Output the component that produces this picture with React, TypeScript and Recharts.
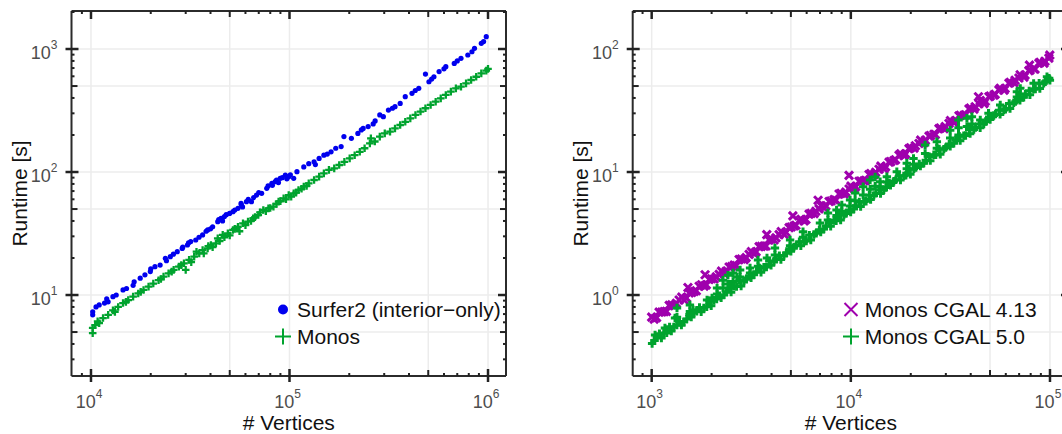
import { ScatterChart, Scatter, XAxis, YAxis, CartesianGrid, ReferenceLine, Legend } from 'recharts';

const FONT = '"Liberation Sans", Arial, Helvetica, sans-serif';

// ---- left panel: Surfer2 vs Monos ----
const surferVertices = [
  10200, 10200, 10600, 11000, 11700, 12000, 12200, 12900, 13400, 14500,
  15100, 16300, 16500, 17700, 18700, 19900, 20000, 21000, 22300, 23700,
  24000, 25100, 26000, 27200, 28800, 29000, 30600, 31000, 31800, 33700,
  35000, 36500, 38000, 38700, 40000, 41000, 43500, 44000, 45200, 46000,
  47000, 48000, 49900, 51900, 53000, 55000, 57000, 57200, 58000, 60700,
  62000, 64300, 66000, 68200, 70000, 72400, 76800, 78000, 81500, 82000,
  84700, 86000, 88000, 89800, 92000, 95300, 97000, 99100, 101000, 105000,
  109000, 118000, 125000, 133000, 135000, 141000, 149000, 155000, 162000, 171000,
  182000, 188000, 205000, 221000, 230000, 235000, 249000, 264000, 270000, 285000,
  297000, 315000, 330000, 340000, 361000, 383000, 414000, 430000, 448000, 484000,
  504000, 520000, 534000, 567000, 600000, 613000, 676000, 700000, 731000, 791000,
  830000, 855000, 925000, 950000, 980000,
];
const surferRuntime = [
  6.9, 7.3, 8.0, 8.3, 8.6, 9.3, 8.8, 9.7, 10.0, 11.0,
  11.3, 12.0, 12.8, 13.7, 14.6, 15.5, 16.3, 17.0, 17.5, 19.9,
  19.0, 20.5, 21.5, 22.5, 23.9, 24.5, 25.5, 26.5, 27.2, 28.0,
  29.5, 30.8, 33.0, 33.8, 34.5, 35.9, 39.5, 41.0, 42.0, 40.0,
  43.4, 45.0, 46.1, 47.6, 49.0, 50.7, 55.5, 54.0, 52.0, 57.4,
  60.0, 57.4, 62.0, 65.0, 68.0, 67.1, 73.7, 77.0, 80.9, 78.0,
  83.4, 86.0, 82.0, 88.9, 90.0, 94.6, 88.0, 91.7, 95.0, 88.9,
  100.7, 110, 117, 121, 115, 129, 137, 140, 146, 156,
  161, 194, 188, 206, 220, 226, 234, 246, 260, 291,
  282, 319, 330, 340, 361, 410, 436, 460, 479, 626,
  542, 570, 595, 655, 690, 718, 764, 800, 840, 894,
  950, 1012, 1112, 1150, 1259,
];
const monosVertices = [
  10200, 10200, 10500, 10800, 11000, 11500, 12200, 12900, 13200, 13700,
  14500, 15000, 15400, 16300, 17300, 17800, 18400, 19500, 20600, 21900,
  22500, 23200, 24600, 25500, 26100, 27700, 28500, 29400, 30000, 31200,
  32000, 33100, 34000, 35100, 36500, 37000, 38700, 39000, 40200, 41000,
  42600, 43500, 44500, 46100, 47000, 48900, 50000, 51900, 53000, 55000,
  56000, 58300, 60000, 61800, 64000, 65600, 67000, 69600, 71000, 73800,
  76000, 78300, 80000, 83000, 86000, 88100, 90000, 93400, 96000, 99100,
  102000, 105000, 108000, 111000, 115000, 118000, 122000, 125000, 133000, 141000,
  149000, 158000, 168000, 178000, 189000, 201000, 213000, 226000, 239000, 254000,
  257000, 269000, 285000, 302000, 321000, 340000, 361000, 383000, 406000, 431000,
  457000, 484000, 514000, 545000, 578000, 613000, 650000, 689000, 731000, 775000,
  822000, 872000, 925000, 980000, 1000000,
];
const monosRuntime = [
  4.9, 5.4, 5.7, 6.1, 5.9, 6.5, 6.9, 7.5, 7.3, 8.0,
  8.6, 8.8, 9.1, 9.7, 10.3, 10.6, 11.0, 11.7, 12.4, 13.2,
  13.5, 14.1, 15.0, 15.5, 16.0, 17.0, 17.5, 18.1, 16.0, 19.3,
  18.5, 20.5, 22.5, 21.8, 23.2, 21.8, 23.9, 25.0, 25.5, 24.5,
  26.3, 28.9, 27.5, 30.8, 29.5, 31.7, 30.5, 33.8, 34.5, 35.9,
  33.0, 38.3, 37.0, 39.5, 40.0, 42.0, 43.0, 44.7, 47.0, 49.1,
  48.0, 50.7, 51.0, 52.3, 55.0, 57.4, 58.0, 61.1, 60.0, 65.0,
  63.0, 67.1, 68.0, 71.4, 73.0, 76.0, 77.0, 80.9, 86.1, 91.7,
  97.5, 104, 107, 114, 121, 129, 137, 146, 156, 171,
  188, 177, 194, 206, 213, 226, 241, 256, 273, 291,
  310, 330, 351, 373, 397, 423, 450, 479, 494, 526,
  560, 595, 634, 667, 690,
];

// ---- right panel: Monos with CGAL 4.13 vs 5.0 ----
const cgal413Vertices = [
  1000, 1058, 1125, 1186, 1262, 1330, 1416, 1493, 1588, 1675,
  1782, 1880, 1999, 2110, 2243, 2367, 2517, 2655, 2823, 2980,
  3168, 3344, 3555, 3750, 3988, 4210, 4475, 4725, 5020, 5300,
  5633, 5950, 6320, 6675, 7090, 7490, 7955, 8405, 8925, 9430,
  10010, 10580, 11230, 11880, 12600, 13330, 14150, 14950, 15870, 16760,
  17800, 18800, 19970, 21100, 22420, 23680, 25140, 26570, 28200, 29800,
  31640, 33450, 35500, 37530, 39830, 42140, 44700, 47300, 50180, 53070,
  56300, 59530, 63150, 66800, 70850, 74950, 79500, 84100, 89200, 94350,
  99800, 1521, 1854, 3784, 5117, 6850, 9795, 43750, 78900,
];
const cgal413Runtime = [
  0.661, 0.655, 0.728, 0.736, 0.834, 0.857, 0.962, 0.948, 1.047, 1.084,
  1.211, 1.208, 1.355, 1.406, 1.563, 1.56, 1.702, 1.734, 1.963, 2.014,
  2.254, 2.249, 2.483, 2.506, 2.844, 2.924, 3.273, 3.236, 3.573, 3.69,
  4.13, 4.111, 4.613, 4.797, 5.321, 5.3, 5.808, 5.902, 6.699, 6.855,
  7.674, 7.6, 8.453, 8.551, 9.705, 9.954, 11.17, 11.02, 12.16, 12.59,
  14.06, 14.03, 15.74, 16.33, 18.16, 18.11, 19.77, 20.14, 22.8, 23.39,
  26.18, 26.12, 28.84, 29.11, 33.04, 33.96, 38.02, 37.58, 41.5, 42.85,
  47.97, 47.75, 53.58, 55.72, 61.8, 61.5, 67.45, 68.55, 77.8, 79.6,
  89.1, 1.15, 1.46, 3.1, 4.4, 5.9, 9.4, 40.9, 74,
];
const cgal413VerticesB = [
  1029, 1090, 1155, 1225, 1297, 1374, 1456, 1543, 1634, 1732,
  1834, 1944, 2059, 2182, 2312, 2449, 2594, 2749, 2913, 3086,
  3270, 3464, 3670, 3889, 4120, 4365, 4624, 4900, 5190, 5500,
  5826, 6173, 6540, 6930, 7340, 7780, 8240, 8730, 9250, 9800,
  10380, 11000, 11650, 12350, 13080, 13860, 14680, 15560, 16480, 17460,
  18500, 19600, 20770, 22000, 23310, 24700, 26170, 27720, 29370, 31120,
  32970, 34930, 37000, 39200, 41530, 44000, 46620, 49390, 52330, 55440,
  58740, 62230, 65930, 69850, 74000, 78400, 83060, 88000, 93230, 98770,
];
const cgal413RuntimeB = [
  0.637, 0.726, 0.733, 0.824, 0.82, 0.91, 0.912, 1.038, 1.069, 1.178,
  1.18, 1.337, 1.349, 1.472, 1.493, 1.69, 1.75, 1.945, 1.941, 2.138,
  2.168, 2.472, 2.495, 2.805, 2.799, 3.097, 3.105, 3.532, 3.639, 4.018,
  4.0, 4.55, 4.592, 5.012, 5.093, 5.754, 5.957, 6.622, 6.607, 7.278,
  7.379, 8.414, 8.492, 9.55, 9.528, 10.54, 10.57, 12.02, 12.39, 13.68,
  13.6, 15.49, 15.63, 17.06, 17.34, 19.59, 20.28, 22.54, 22.49, 24.77,
  25.12, 28.64, 28.91, 32.51, 32.43, 35.89, 35.97, 40.93, 42.17, 46.56,
  46.2, 52.72, 53.21, 58.08, 59.02, 66.68, 69.02, 76.74, 76.56, 84.33,
];
const cgal50Vertices = [
  1005, 1062, 1119, 1190, 1255, 1338, 1410, 1500, 1580, 1684,
  1772, 1890, 1990, 2120, 2232, 2378, 2505, 2668, 2812, 2992,
  3155, 3360, 3540, 3770, 3975, 4230, 4455, 4745, 5000, 5325,
  5610, 5975, 6295, 6705, 7060, 7525, 7920, 8440, 8890, 9470,
  9980, 10620, 11200, 11930, 12570, 13380, 14100, 15010, 15820, 16840,
  17750, 18900, 19900, 21200, 22350, 23800, 25060, 26700, 28120, 29950,
  31550, 33600, 35400, 37700, 39700, 42300, 44600, 47500, 50050, 53300,
  56150, 59800, 63000, 67100, 70650, 75250, 79300, 84450, 88950, 94750,
  99900,
  1040, 1166, 1310, 1340, 1340, 1556, 1556, 1614, 1897, 2010,
  2130, 2130, 2282, 2282, 2415, 2415, 2563, 2563, 2684, 2780,
  2780, 3119, 3119, 3420, 3420, 3793, 4159, 4159, 4955, 4955,
  5754, 5754, 7000, 7677, 7677, 8479, 8479, 9010, 9010, 9910,
  9910, 10510, 10510, 11530, 11530, 12500, 12500, 13250, 13250, 14030,
  14030, 15170, 15170, 17020, 19100, 19100, 20640, 20640, 23610, 23610,
  27040, 27040, 31550, 31550, 34740, 34740, 34740, 38280, 38280, 40550,
  40550, 44670, 49130, 56260, 68230, 68230, 70950, 70950, 82790, 96620,
];
const cgal50Runtime = [
  0.403, 0.452, 0.447, 0.492, 0.509, 0.57, 0.569, 0.637, 0.662, 0.736,
  0.731, 0.801, 0.817, 0.927, 0.948, 1.062, 1.055, 1.172, 1.183, 1.343,
  1.38, 1.549, 1.528, 1.687, 1.746, 1.954, 1.945, 2.183, 2.27, 2.523,
  2.517, 2.748, 2.799, 3.177, 3.251, 3.64, 3.619, 4.018, 4.064, 4.602,
  4.732, 5.309, 5.248, 5.781, 5.984, 6.699, 6.683, 7.481, 7.78, 8.649,
  8.595, 9.419, 9.598, 10.89, 11.16, 12.47, 12.37, 13.77, 13.93, 15.78,
  16.22, 18.19, 17.99, 19.82, 20.51, 22.96, 22.91, 25.71, 26.67, 29.65,
  29.41, 32.36, 32.88, 37.32, 38.29, 42.85, 42.5, 47.21, 47.75, 54.2,
  55.59,
  0.473, 0.54, 0.65, 0.784, 0.66, 0.83, 0.736, 0.755, 0.91, 0.946,
  1.14, 1.02, 1.32, 1.14, 1.45, 1.23, 1.51, 1.29, 1.4, 1.6,
  1.4, 1.66, 1.51, 1.93, 1.71, 2.0, 2.41, 2.12, 2.8, 2.51,
  3.27, 2.95, 3.85, 4.64, 4.07, 4.91, 4.44, 5.39, 4.79, 5.92,
  5.3, 6.75, 5.83, 7.59, 6.5, 8.61, 7.24, 9.1, 7.67, 8.34,
  7.59, 9.16, 8.28, 10.05, 11.8, 10.64, 12.9, 11.59, 16.6, 14.13,
  17.6, 15.63, 21.9, 18.92, 26.5, 22.9, 19.95, 27.4, 23.44, 28.2,
  24.55, 26.5, 30.0, 35.1, 45.0, 40.7, 47.9, 43.15, 52.6, 59.6,
];
const cgal50VerticesB = [
  1033, 1094, 1150, 1230, 1292, 1380, 1450, 1548, 1628, 1738,
  1828, 1950, 2052, 2190, 2305, 2456, 2587, 2757, 2905, 3095,
  3262, 3474, 3660, 3900, 4110, 4378, 4612, 4915, 5176, 5516,
  5810, 6190, 6522, 6950, 7320, 7800, 8220, 8755, 9225, 9830,
  10350, 11030, 11620, 12385, 13045, 13900, 14640, 15600, 16440, 17510,
  18450, 19650, 20720, 22060, 23250, 24770, 26100, 27800, 29300, 31200,
  32890, 35030, 36900, 39300, 41430, 44120, 46500, 49530, 52200, 55600,
  58600, 62400, 65770, 70050, 73820, 78620, 82860, 88250, 92990, 99050,
];
const cgal50RuntimeB = [
  0.426, 0.485, 0.49, 0.551, 0.55, 0.61, 0.605, 0.695, 0.716, 0.791,
  0.785, 0.895, 0.906, 0.989, 1.002, 1.135, 1.175, 1.309, 1.306, 1.436,
  1.459, 1.663, 1.683, 1.888, 1.884, 2.089, 2.094, 2.382, 2.455, 2.71,
  2.716, 3.069, 3.105, 3.388, 3.443, 3.89, 4.027, 4.487, 4.477, 4.92,
  5.0, 5.702, 5.768, 6.471, 6.457, 7.161, 7.178, 8.166, 8.414, 9.29,
  9.311, 10.52, 10.64, 11.61, 11.8, 13.34, 13.8, 15.38, 15.35, 16.87,
  17.14, 19.54, 19.77, 22.18, 22.13, 24.55, 24.6, 27.99, 28.84, 31.84,
  31.92, 36.06, 36.48, 39.81, 40.46, 45.71, 47.32, 52.72, 52.6, 57.81,
];

// ticks (log axes, majors at decades) and grid values
const leftXTicks = [9000, 1e4, 2e4, 3e4, 4e4, 5e4, 6e4, 7e4, 8e4, 9e4, 1e5, 2e5, 3e5, 4e5, 5e5, 6e5, 7e5, 8e5, 9e5, 1e6];
const leftYTicks = [3, 4, 5, 6, 7, 8, 9, 10, 20, 30, 40, 50, 60, 70, 80, 90, 100, 200, 300, 400, 500, 600, 700, 800, 900, 1000, 2000];
const rightXTicks = [900, 1e3, 2e3, 3e3, 4e3, 5e3, 6e3, 7e3, 8e3, 9e3, 1e4, 2e4, 3e4, 4e4, 5e4, 6e4, 7e4, 8e4, 9e4, 1e5];
const rightYTicks = [0.3, 0.4, 0.5, 0.6, 0.7, 0.8, 0.9, 1, 2, 3, 4, 5, 6, 7, 8, 9, 10, 20, 30, 40, 50, 60, 70, 80, 90, 100, 200];
const leftXGrid = [1e4, 5e4, 1e5, 5e5, 1e6];
const leftYGrid = [5, 10, 50, 100, 500, 1000];
const rightXGrid = [1e3, 5e3, 1e4, 5e4, 1e5];
const rightYGrid = [0.5, 1, 5, 10, 50, 100];

type Marker = 'dot' | 'plus' | 'cross';
interface Series { name: string; xs: number[]; ys: number[]; color: string; marker: Marker; size: number; weight: number }

const drawMarker = (kind: Marker, color: string, cx: number, cy: number, s: number, w = 2) => {
  if (kind === 'dot') return <circle cx={cx} cy={cy} r={s} fill={color} />;
  if (kind === 'plus')
    return <path d={`M${cx - s},${cy}H${cx + s}M${cx},${cy - s}V${cy + s}`} stroke={color} strokeWidth={w} fill="none" />;
  return (
    <path d={`M${cx - s},${cy - s}L${cx + s},${cy + s}M${cx - s},${cy + s}L${cx + s},${cy - s}`} stroke={color} strokeWidth={w} fill="none" />
  );
};
const legendSize: Record<Marker, number> = { dot: 5, plus: 8, cross: 6.5 };

const tickInfo = (v: number) => {
  const e = Math.floor(Math.log10(v) + 1e-9);
  const m = v / Math.pow(10, e);
  return { e, major: Math.abs(m - 1) < 1e-6, half: Math.abs(m - 5) < 1e-6 };
};

const PowerLabel = ({ x, y, exp, anchor }: { x: number; y: number; exp: number; anchor: 'middle' | 'end' }) => (
  <text x={x} y={y} textAnchor={anchor} fill="#4d4d4d" fontFamily={FONT} fontSize={18}>
    10
    <tspan dy={-10} fontSize={12}>
      {exp}
    </tspan>
  </text>
);

const TICK = '#222';

// bottom axis ticks, mirrored onto the top edge of the frame
const makeXTick = (plotH: number) => (props: any) => {
  const { x, y, payload } = props;
  const { e, major, half } = tickInfo(payload.value);
  const inner = major ? 7 : half ? 6 : 3;
  const top = y - plotH;
  return (
    <g>
      <line x1={x} x2={x} y1={y + (major ? 6 : 0)} y2={y - inner} stroke={TICK} strokeWidth={major ? 2.5 : 2} />
      <line x1={x} x2={x} y1={top} y2={top + (major ? 8 : inner)} stroke={TICK} strokeWidth={major ? 2.5 : 2} />
      {major && <PowerLabel x={x - 2} y={y + 32} exp={e} anchor="middle" />}
    </g>
  );
};

// left axis ticks, mirrored onto the right edge of the frame
const makeYTick = (plotW: number) => (props: any) => {
  const { x, y, payload } = props;
  const { e, major, half } = tickInfo(payload.value);
  const inner = major ? 7 : half ? 6 : 3;
  const right = x + plotW;
  return (
    <g>
      <line x1={x - (major ? 6 : 0)} x2={x + inner} y1={y} y2={y} stroke={TICK} strokeWidth={major ? 2.5 : 2} />
      <line x1={right} x2={right - (major ? 8 : inner)} y1={y} y2={y} stroke={TICK} strokeWidth={major ? 2.5 : 2} />
      {major && <PowerLabel x={x - 14} y={y + 9.5} exp={e} anchor="end" />}
    </g>
  );
};

interface PanelProps {
  width: number;
  marginLeft: number;
  marginRight: number;
  xDomain: [number, number];
  yDomain: [number, number];
  xTicks: number[];
  yTicks: number[];
  xGrid: number[];
  yGrid: number[];
  series: Series[];
  legendLeft: number;
}

const HEIGHT = 434;
const TOP = 11;
const X_AXIS_H = 58;
const Y_AXIS_W = 71;

function Panel({ width, marginLeft, marginRight, xDomain, yDomain, xTicks, yTicks, xGrid, yGrid, series, legendLeft }: PanelProps) {
  const plotW = width - marginLeft - marginRight - Y_AXIS_W;
  const plotH = HEIGHT - TOP - X_AXIS_H;
  const frame = { stroke: '#2b2b2b', strokeWidth: 2 };

  return (
    <ScatterChart width={width} height={HEIGHT} margin={{ top: TOP, right: marginRight, bottom: 0, left: marginLeft }}>
      <CartesianGrid stroke="#ececec" strokeWidth={1.5} horizontalValues={yGrid} verticalValues={xGrid} />
      <XAxis
        dataKey="x"
        type="number"
        scale="log"
        domain={xDomain}
        allowDataOverflow
        ticks={xTicks}
        interval={0}
        tickSize={0}
        tickMargin={0}
        tickLine={false}
        tick={makeXTick(plotH)}
        axisLine={frame}
        height={X_AXIS_H}
        label={{ value: '# Vertices', position: 'insideBottom', offset: 4, fill: '#111', fontSize: 21, fontFamily: FONT }}
      />
      <YAxis
        dataKey="y"
        type="number"
        scale="log"
        domain={yDomain}
        allowDataOverflow
        ticks={yTicks}
        interval={0}
        tickSize={0}
        tickMargin={0}
        tickLine={false}
        tick={makeYTick(plotW)}
        axisLine={frame}
        width={Y_AXIS_W}
        label={(p: any) => {
          const vb = p.viewBox;
          const cx = vb.x + vb.width - 44.8;
          const cy = vb.y + vb.height / 2;
          return (
            <text transform={`translate(${cx},${cy}) rotate(-90)`} textAnchor="middle" fill="#111" fontSize={21} fontFamily={FONT}>
              Runtime [s]
            </text>
          );
        }}
      />
      {series.map((s) => (
        <Scatter
          key={s.name}
          name={s.name}
          data={s.xs.map((x, i) => ({ x, y: s.ys[i] }))}
          fill={s.color}
          isAnimationActive={false}
          shape={(p: any) => drawMarker(s.marker, s.color, p.cx, p.cy, s.size, s.weight)}
        />
      ))}
      <ReferenceLine x={xDomain[1]} ifOverflow="visible" {...frame} />
      <ReferenceLine y={yDomain[1]} ifOverflow="visible" {...frame} />
      <Legend
        layout="horizontal"
        align="center"
        verticalAlign="middle"
        wrapperStyle={{ left: legendLeft, top: 295.5, width: 260, height: 'auto' }}
        content={() => (
          <div style={{ fontFamily: FONT, fontSize: 21, lineHeight: '27px', color: '#111', whiteSpace: 'nowrap' }}>
            {series.map((s) => (
              <div key={s.name} style={{ display: 'flex', alignItems: 'center', height: 27 }}>
                <svg width={18} height={27} style={{ overflow: 'visible', flex: 'none' }}>
                  {drawMarker(s.marker, s.color, 9, 13.5, legendSize[s.marker], 2)}
                </svg>
                <span style={{ marginLeft: 5 }}>{s.name}</span>
              </div>
            ))}
          </div>
        )}
      />
    </ScatterChart>
  );
}

const BLUE = '#0000ee';
const GREEN = '#00a32e';
const PURPLE = '#9f00ad';

export default function App() {
  const leftSeries: Series[] = [
    { name: 'Surfer2 (interior\u2212only)', xs: surferVertices, ys: surferRuntime, color: BLUE, marker: 'dot', size: 2.6, weight: 0 },
    { name: 'Monos', xs: monosVertices, ys: monosRuntime, color: GREEN, marker: 'plus', size: 3.8, weight: 2.3 },
  ];
  const rightSeries: Series[] = [
    {
      name: 'Monos CGAL 4.13',
      xs: [...cgal413Vertices, ...cgal413VerticesB],
      ys: [...cgal413Runtime, ...cgal413RuntimeB],
      color: PURPLE,
      marker: 'cross',
      size: 4,
      weight: 3,
    },
    {
      name: 'Monos CGAL 5.0',
      xs: [...cgal50Vertices, ...cgal50VerticesB],
      ys: [...cgal50Runtime, ...cgal50RuntimeB],
      color: GREEN,
      marker: 'plus',
      size: 4.2,
      weight: 3,
    },
  ];

  return (
    <div style={{ position: 'absolute', left: 0, top: 0, width: 1062, height: 434, overflow: 'hidden', background: '#fff' }}>
      <div style={{ position: 'absolute', left: 0, top: 0 }}>
        <Panel
          width={530}
          marginLeft={0.5}
          marginRight={24}
          xDomain={[7977, 1232000]}
          yDomain={[2.196, 2037]}
          xTicks={leftXTicks}
          yTicks={leftYTicks}
          xGrid={leftXGrid}
          yGrid={leftYGrid}
          series={leftSeries}
          legendLeft={274}
        />
      </div>
      <div style={{ position: 'absolute', left: 530, top: 0 }}>
        <Panel
          width={545}
          marginLeft={31.7}
          marginRight={6}
          xDomain={[803, 124600]}
          yDomain={[0.2196, 203.7]}
          xTicks={rightXTicks}
          yTicks={rightYTicks}
          xGrid={rightXGrid}
          yGrid={rightYGrid}
          series={rightSeries}
          legendLeft={311.7}
        />
      </div>
    </div>
  );
}
